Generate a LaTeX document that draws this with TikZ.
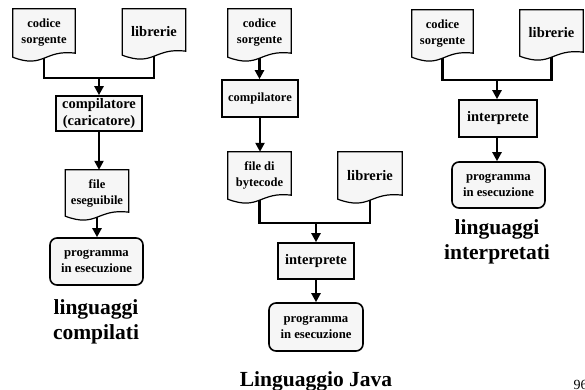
\documentclass[tikz,border=0pt]{standalone}
\usepackage{fontspec}
\setmainfont{Liberation Serif}
\usetikzlibrary{arrows.meta,backgrounds,calc}
\definecolor{boxfill}{HTML}{F6F6F6}
\tikzset{
  box/.style={draw, line width=1.6pt, fill=boxfill, inner sep=0pt, align=center,
    font=\bfseries\fontsize{14.5}{17}\selectfont},
  smallbox/.style={box, font=\bfseries\fontsize{12.5}{16}\selectfont},
  roundbox/.style={box, rounded corners=7pt, font=\bfseries\fontsize{12.7}{15.7}\selectfont},
  doc/.style={inner sep=0pt, align=center, font=\bfseries\fontsize{12.5}{16}\selectfont},
  bigdoc/.style={doc, font=\bfseries\fontsize{14.5}{17}\selectfont},
  docline/.style={draw, fill=boxfill, line width=1.2pt, line join=miter},
  conn/.style={line width=2.6pt},
  arr/.style={line width=2.6pt, -{Triangle[width=9pt,length=9pt]}},
  title/.style={font=\bfseries\fontsize{21.5}{25}\selectfont, align=center},
}
\newcommand\docshape[1]{%
  \path[docline] let \p1=(#1.south west), \p2=(#1.north east) in
    (\x1,\y1) -- (\x1,\y2) -- (\x2,\y2) -- (\x2,{\y1+4pt})
    .. controls ({0.5*\x1+0.5*\x2},{\y1+8pt}) and ({0.5*\x1+0.5*\x2},{\y1-12pt}) .. (\x1,\y1) -- cycle;}
\begin{document}
\begin{tikzpicture}[x=1pt,y=-1pt]
\useasboundingbox (0,0) rectangle (585,390);

% ---------- left: linguaggi compilati ----------
\node[doc, minimum width=62pt, minimum height=48pt] (lcs) at (44,33) {codice\\sorgente};
\node[bigdoc, minimum width=63pt, minimum height=46pt] (llib) at (154,32) {librerie};
\node[box, minimum width=86pt, minimum height=35pt] (lcomp) at (99,113.5) {compilatore\\(caricatore)};
\node[doc, minimum width=63pt, minimum height=46pt] (lfile) at (97,193) {file\\eseguibile};
\node[roundbox, minimum width=93pt, minimum height=47pt] (lprog) at (96.5,261.5) {programma\\in esecuzione};
\node[title] (ltitle) at (96,322) {linguaggi\\compilati};
\coordinate (lj) at (99,78);

% ---------- middle: Linguaggio Java ----------
\node[doc, minimum width=63pt, minimum height=48pt] (mcs) at (259.5,33) {codice\\sorgente};
\node[smallbox, minimum width=76pt, minimum height=37pt] (mcomp) at (260,98.5) {compilatore};
\node[doc, minimum width=63pt, minimum height=47pt] (mfile) at (259.5,175.5) {file di\\bytecode};
\node[bigdoc, minimum width=64pt, minimum height=47pt] (mlib) at (370,175.5) {librerie};
\node[box, minimum width=76pt, minimum height=36pt] (mint) at (316,261) {interprete};
\node[roundbox, minimum width=94pt, minimum height=48pt] (mprog) at (316,327) {programma\\in esecuzione};
\node[title, anchor=base] (mtitle) at (316,386) {Linguaggio Java};
\coordinate (mj) at (316,223);

% ---------- right: linguaggi interpretati ----------
\node[doc, minimum width=61pt, minimum height=47pt] (rcs) at (442.5,33.5) {codice\\sorgente};
\node[bigdoc, minimum width=63pt, minimum height=46pt] (rlib) at (551.5,33) {librerie};
\node[box, minimum width=78pt, minimum height=37pt] (rint) at (498,118.5) {interprete};
\node[roundbox, minimum width=93pt, minimum height=46pt] (rprog) at (498.5,185) {programma\\in esecuzione};
\node[title] (rtitle) at (497,242) {linguaggi\\interpretati};
\coordinate (rj) at (497,80);

% page number
\node[anchor=base west, inner sep=0pt, font=\fontsize{14}{16}\selectfont] (pnum) at (573.5,389) {96};

% document outlines
\begin{pgfonlayer}{background}
  \docshape{lcs}\docshape{llib}\docshape{lfile}
  \docshape{mcs}\docshape{mfile}\docshape{mlib}
  \docshape{rcs}\docshape{rlib}
\end{pgfonlayer}

% connectors
\draw[conn] ([yshift=-1pt]lcs.south) |- (lj) -| ([yshift=-1pt]llib.south);
\draw[arr] (lj) -- (lcomp.north);
\draw[arr] (lcomp.south) -- (lcomp.south |- lfile.north);
\draw[arr] ([yshift=-1pt]lfile.south) -- (lfile.south |- lprog.north);

\draw[arr] ([yshift=-1pt]mcs.south) -- (mcs.south |- mcomp.north);
\draw[arr] (mcomp.south) -- (mcomp.south |- mfile.north);
\draw[conn] ([yshift=-1pt]mfile.south) |- (mj) -| ([yshift=-1pt]mlib.south);
\draw[arr] (mj) -- (mint.north);
\draw[arr] (mint.south) -- (mprog.north);

\draw[conn] ([yshift=-1pt]rcs.south) |- (rj) -| ([yshift=-1pt]rlib.south);
\draw[arr] (rj) -- (rj |- rint.north);
\draw[arr] (rint.south -| rj) -- (rj |- rprog.north);
\end{tikzpicture}
\end{document}
